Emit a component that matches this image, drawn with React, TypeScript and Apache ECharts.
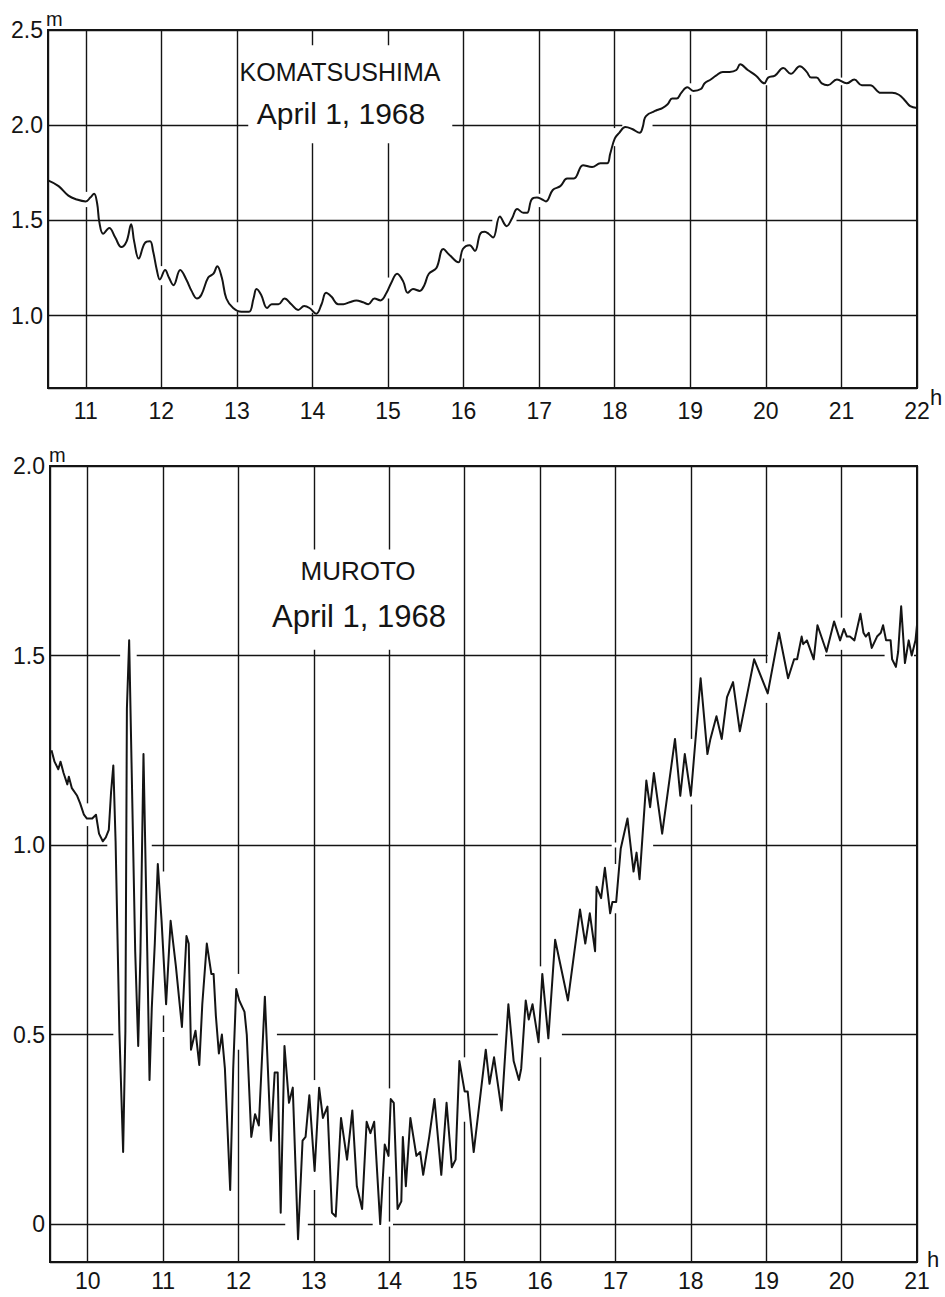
import React, { useEffect, useRef } from 'react';
import * as echarts from 'echarts';

// ---- data (hour of day, sea level in metres) ----
const komatsushimaTide: [number, number][] = [
  [10.5, 1.71], [10.64, 1.68], [10.77, 1.63], [10.88, 1.61], [11.0, 1.6], [11.06, 1.62], [11.11, 1.64],
  [11.15, 1.59], [11.18, 1.49], [11.23, 1.43], [11.31, 1.46], [11.39, 1.41], [11.47, 1.36], [11.54, 1.39],
  [11.6, 1.48], [11.64, 1.39], [11.7, 1.3], [11.78, 1.38], [11.85, 1.39], [11.89, 1.34], [11.94, 1.24],
  [11.98, 1.19], [12.05, 1.24], [12.1, 1.2], [12.16, 1.16], [12.25, 1.24], [12.33, 1.19], [12.4, 1.13],
  [12.47, 1.09], [12.53, 1.11], [12.62, 1.2], [12.69, 1.22], [12.74, 1.26], [12.8, 1.2], [12.86, 1.09],
  [12.95, 1.04], [13.06, 1.02], [13.16, 1.02], [13.22, 1.09], [13.26, 1.14], [13.32, 1.11], [13.4, 1.04],
  [13.46, 1.06], [13.55, 1.06], [13.63, 1.09], [13.72, 1.06], [13.81, 1.03], [13.89, 1.05], [13.96, 1.04],
  [14.05, 1.01], [14.12, 1.06], [14.18, 1.12], [14.25, 1.1], [14.34, 1.06], [14.41, 1.06], [14.49, 1.07],
  [14.58, 1.08], [14.67, 1.07], [14.74, 1.06], [14.82, 1.09], [14.9, 1.08], [14.98, 1.12], [15.04, 1.17],
  [15.12, 1.22], [15.2, 1.18], [15.26, 1.12], [15.33, 1.14], [15.42, 1.13], [15.48, 1.16], [15.54, 1.22],
  [15.64, 1.25], [15.73, 1.35], [15.81, 1.32], [15.93, 1.28], [15.99, 1.35], [16.08, 1.37], [16.15, 1.34],
  [16.22, 1.43], [16.28, 1.44], [16.33, 1.43], [16.39, 1.41], [16.48, 1.52], [16.57, 1.47], [16.64, 1.51],
  [16.71, 1.56], [16.79, 1.54], [16.84, 1.54], [16.9, 1.61], [16.97, 1.62], [17.04, 1.61], [17.09, 1.6],
  [17.18, 1.66], [17.28, 1.68], [17.37, 1.72], [17.46, 1.72], [17.58, 1.79], [17.7, 1.78], [17.81, 1.8],
  [17.9, 1.8], [17.94, 1.85], [18.0, 1.93], [18.06, 1.96], [18.14, 1.99], [18.23, 1.98], [18.33, 1.96],
  [18.37, 1.99], [18.4, 2.04], [18.45, 2.06], [18.51, 2.07], [18.56, 2.08], [18.63, 2.09], [18.7, 2.11],
  [18.76, 2.14], [18.82, 2.14], [18.88, 2.17], [18.96, 2.2], [19.04, 2.18], [19.14, 2.19], [19.19, 2.22],
  [19.27, 2.24], [19.34, 2.26], [19.43, 2.28], [19.52, 2.28], [19.61, 2.29], [19.66, 2.32], [19.76, 2.29],
  [19.87, 2.26], [19.98, 2.22], [20.03, 2.25], [20.12, 2.26], [20.23, 2.3], [20.33, 2.27], [20.45, 2.31],
  [20.54, 2.28], [20.6, 2.25], [20.67, 2.25], [20.74, 2.22], [20.82, 2.21], [20.94, 2.24], [21.07, 2.22],
  [21.17, 2.24], [21.27, 2.21], [21.38, 2.21], [21.52, 2.17], [21.58, 2.17], [21.67, 2.17], [21.76, 2.16],
  [21.84, 2.13], [21.91, 2.1], [22.0, 2.09],
];

const murotoTide: [number, number][] = [
  [9.52, 1.25], [9.56, 1.22], [9.61, 1.2], [9.64, 1.22], [9.68, 1.19], [9.73, 1.16], [9.75, 1.18],
  [9.79, 1.15], [9.86, 1.13], [9.9, 1.11], [9.95, 1.08], [9.99, 1.07], [10.06, 1.07], [10.11, 1.08],
  [10.15, 1.03], [10.2, 1.01], [10.24, 1.02], [10.28, 1.04], [10.31, 1.14], [10.34, 1.21], [10.37, 1.01],
  [10.42, 0.51], [10.47, 0.19], [10.5, 0.51], [10.52, 1.36], [10.55, 1.54], [10.59, 1.13], [10.63, 0.72],
  [10.67, 0.47], [10.7, 0.72], [10.74, 1.24], [10.79, 0.72], [10.82, 0.38], [10.85, 0.57], [10.89, 0.74],
  [10.93, 0.95], [10.98, 0.8], [11.04, 0.58], [11.1, 0.8], [11.17, 0.68], [11.25, 0.52], [11.31, 0.76],
  [11.34, 0.74], [11.37, 0.46], [11.43, 0.51], [11.48, 0.42], [11.52, 0.58], [11.58, 0.74], [11.64, 0.66],
  [11.67, 0.66], [11.7, 0.55], [11.74, 0.45], [11.78, 0.5], [11.82, 0.41], [11.89, 0.09], [11.93, 0.41],
  [11.97, 0.62], [12.01, 0.59], [12.08, 0.56], [12.11, 0.5], [12.17, 0.23], [12.22, 0.29], [12.27, 0.26],
  [12.35, 0.6], [12.43, 0.22], [12.48, 0.4], [12.52, 0.4], [12.56, 0.03], [12.61, 0.47], [12.67, 0.32],
  [12.72, 0.36], [12.79, -0.04], [12.85, 0.22], [12.89, 0.23], [12.94, 0.34], [13.01, 0.14], [13.07, 0.36],
  [13.12, 0.28], [13.18, 0.31], [13.24, 0.03], [13.29, 0.02], [13.36, 0.28], [13.44, 0.17], [13.51, 0.3],
  [13.57, 0.1], [13.64, 0.04], [13.7, 0.27], [13.75, 0.24], [13.8, 0.27], [13.88, 0.0], [13.94, 0.21],
  [13.99, 0.18], [14.02, 0.33], [14.06, 0.32], [14.11, 0.04], [14.16, 0.06], [14.18, 0.23], [14.22, 0.1],
  [14.28, 0.28], [14.36, 0.18], [14.41, 0.19], [14.45, 0.13], [14.53, 0.23], [14.6, 0.33], [14.69, 0.13],
  [14.76, 0.32], [14.83, 0.15], [14.88, 0.17], [14.93, 0.43], [15.0, 0.35], [15.04, 0.35], [15.12, 0.19],
  [15.28, 0.46], [15.33, 0.37], [15.39, 0.44], [15.49, 0.3], [15.58, 0.58], [15.65, 0.43], [15.72, 0.38],
  [15.75, 0.41], [15.81, 0.59], [15.85, 0.54], [15.9, 0.58], [15.98, 0.48], [16.03, 0.66], [16.11, 0.49],
  [16.2, 0.75], [16.37, 0.59], [16.53, 0.83], [16.6, 0.74], [16.66, 0.82], [16.73, 0.72], [16.75, 0.89],
  [16.81, 0.86], [16.86, 0.94], [16.93, 0.82], [16.96, 0.85], [17.01, 0.85], [17.07, 0.99], [17.16, 1.07],
  [17.24, 0.93], [17.28, 0.98], [17.32, 0.91], [17.41, 1.17], [17.46, 1.1], [17.51, 1.19], [17.62, 1.03],
  [17.79, 1.28], [17.86, 1.13], [17.92, 1.24], [18.0, 1.13], [18.13, 1.44], [18.22, 1.24], [18.26, 1.28],
  [18.34, 1.34], [18.41, 1.28], [18.48, 1.39], [18.56, 1.43], [18.65, 1.3], [18.84, 1.49], [19.02, 1.4],
  [19.17, 1.56], [19.29, 1.44], [19.37, 1.49], [19.41, 1.49], [19.47, 1.55], [19.49, 1.53], [19.54, 1.54],
  [19.63, 1.49], [19.68, 1.58], [19.8, 1.51], [19.9, 1.59], [19.98, 1.54], [20.03, 1.57], [20.07, 1.55],
  [20.11, 1.55], [20.17, 1.54], [20.25, 1.61], [20.29, 1.56], [20.32, 1.55], [20.36, 1.56], [20.4, 1.52],
  [20.47, 1.55], [20.52, 1.56], [20.55, 1.58], [20.59, 1.54], [20.62, 1.54], [20.65, 1.54], [20.67, 1.49],
  [20.72, 1.47], [20.75, 1.51], [20.79, 1.63], [20.84, 1.48], [20.89, 1.54], [20.93, 1.5], [20.98, 1.54],
  [21.0, 1.58],
];

// axis ranges
const topHours: [number, number] = [10.5, 22];
const topLevels: [number, number] = [0.62, 2.5];
const bottomHours: [number, number] = [9.5, 21];
const bottomLevels: [number, number] = [-0.1, 2.0];

// panel labels
const topStation = 'KOMATSUSHIMA';
const bottomStation = 'MUROTO';
const dateLabel = 'April 1, 1968';

// drafting breaks in the grid lines (data units): [line value, from, to]
const topHBreaks: [number, number, number][] = [[2.0, 18.1, 18.5], [1.5, 16.38, 16.7]];
const topVBreaks: [number, number, number][] = [
  [11, 1.57, 1.65], [12, 1.16, 1.26], [13, 1.02, 1.07], [14, 1.015, 1.055], [15, 1.09, 1.2],
  [16, 1.3, 1.39], [17, 1.57, 1.64], [18, 1.89, 1.985], [19, 2.16, 2.22], [20, 2.21, 2.29], [21, 2.21, 2.25],
];
const bottomHBreaks: [number, number, number][] = [
  [1.5, 10.43, 10.65], [1.5, 19.02, 19.78], [1.5, 20.57, 20.96], [1.0, 10.26, 10.85], [1.0, 16.95, 17.5],
  [0.5, 10.34, 12.51], [0.5, 15.44, 16.29], [0, 12.62, 12.92], [0, 13.78, 14.05],
];
const bottomVBreaks: [number, number, number][] = [
  [10, 1.05, 1.11], [11, 0.55, 0.93], [12, 0.46, 0.66], [13, 0.09, 0.38], [14, 0.125, 0.358],
  [15, 0.27, 0.44], [16, 0.44, 0.68], [17, 0.82, 0.95], [18, 1.107, 1.28], [19, 1.375, 1.48], [20, 1.515, 1.6],
];
// title boxes: [x0, x1, y0, y1]
const topTitleBox: [number, number, number, number] = [13.15, 15.85, 1.905, 2.42];
const bottomTitleBox: [number, number, number, number] = [12.35, 14.87, 1.515, 1.78];

const INK = '#141414';
const FONT = 'Liberation Sans';

const isInt = (v: number) => Math.abs(v - Math.round(v)) < 1e-6;
const isHalf = (v: number) => Math.abs(v * 2 - Math.round(v * 2)) < 1e-6;

function makeX(gridIndex: number, range: [number, number], margin: number) {
  return {
    type: 'value',
    gridIndex,
    min: range[0],
    max: range[1],
    splitNumber: 12,
    axisLine: { show: true, onZero: false, lineStyle: { color: INK, width: 2 } },
    axisTick: { show: false },
    splitLine: { show: true, lineStyle: { color: INK, width: 1.4 } },
    axisLabel: {
      margin,
      color: INK,
      fontFamily: FONT,
      fontSize: 23,
      formatter: (v: number) => (isInt(v) ? String(Math.round(v)) : ''),
    },
  };
}

function makeY(gridIndex: number, range: [number, number]) {
  return {
    type: 'value',
    gridIndex,
    min: range[0],
    max: range[1],
    splitNumber: 4,
    axisLine: { show: true, onZero: false, lineStyle: { color: INK, width: 2 } },
    axisTick: { show: false },
    splitLine: { show: true, lineStyle: { color: INK, width: 1.4 } },
    axisLabel: {
      margin: 5,
      color: INK,
      fontFamily: FONT,
      fontSize: 23,
      formatter: (v: number) => (Math.abs(v) < 1e-9 ? '0' : isHalf(v) ? v.toFixed(1) : ''),
    },
  };
}

export default function App() {
  const ref = useRef<HTMLDivElement>(null);

  useEffect(() => {
    if (!ref.current) return;
    const chart = echarts.init(ref.current, undefined, { renderer: 'svg' });
    chart.setOption({
      animation: false,
      backgroundColor: '#ffffff',
      grid: [
        { left: 48, top: 30, width: 869, height: 358, show: true, borderColor: INK, borderWidth: 2, backgroundColor: 'transparent' },
        { left: 50, top: 466, width: 867, height: 796, show: true, borderColor: INK, borderWidth: 2, backgroundColor: 'transparent' },
      ],
      xAxis: [makeX(0, topHours, 11), makeX(1, bottomHours, 7)],
      yAxis: [makeY(0, topLevels), makeY(1, bottomLevels)],
      series: [
        {
          name: topStation,
          type: 'line',
          xAxisIndex: 0,
          yAxisIndex: 0,
          data: komatsushimaTide,
          symbol: 'none',
          smooth: 0.4,
          lineStyle: { color: INK, width: 2 },
          z: 5,
        },
        {
          name: bottomStation,
          type: 'line',
          xAxisIndex: 1,
          yAxisIndex: 1,
          data: murotoTide,
          symbol: 'none',
          smooth: false,
          lineStyle: { color: INK, width: 2, join: 'round' },
          z: 5,
        },
      ],
    });

    const px = (g: number, x: number, y: number) => chart.convertToPixel({ gridIndex: g } as any, [x, y]) as number[];
    const white = { fill: '#ffffff', stroke: null };
    const elements: any[] = [];
    const addH = (g: number, list: [number, number, number][]) => {
      list.forEach(([y, x0, x1]) => {
        const a = px(g, x0, y);
        const b = px(g, x1, y);
        elements.push({ type: 'rect', z: 3, silent: true, shape: { x: a[0], y: a[1] - 2.5, width: b[0] - a[0], height: 5 }, style: white });
      });
    };
    const addV = (g: number, list: [number, number, number][]) => {
      list.forEach(([x, y0, y1]) => {
        const a = px(g, x, y1);
        const b = px(g, x, y0);
        elements.push({ type: 'rect', z: 3, silent: true, shape: { x: a[0] - 2.5, y: a[1], width: 5, height: b[1] - a[1] }, style: white });
      });
    };
    const addBox = (g: number, box: [number, number, number, number]) => {
      const a = px(g, box[0], box[3]);
      const b = px(g, box[1], box[2]);
      elements.push({ type: 'rect', z: 3, silent: true, shape: { x: a[0], y: a[1], width: b[0] - a[0], height: b[1] - a[1] }, style: white });
    };
    addH(0, topHBreaks);
    addV(0, topVBreaks);
    addH(1, bottomHBreaks);
    addV(1, bottomVBreaks);
    addBox(0, topTitleBox);
    addBox(1, bottomTitleBox);

    const txt = (text: string, x: number, y: number, size: number, align = 'center') => ({
      type: 'text',
      z: 10,
      silent: true,
      x,
      y,
      style: { text, fill: INK, font: `${size}px "${FONT}"`, align, verticalAlign: 'middle' },
    });
    elements.push(txt(topStation, 340, 72, 25));
    elements.push(txt(dateLabel, 341, 113, 30));
    elements.push(txt(bottomStation, 358, 571, 26));
    elements.push(txt(dateLabel, 359, 616, 31));
    elements.push(txt('m', 46, 19, 20, 'left'));
    elements.push(txt('m', 49, 455, 20, 'left'));
    elements.push(txt('h', 930, 397, 22, 'left'));
    elements.push(txt('h', 927, 1259, 22, 'left'));

    chart.setOption({ graphic: { elements } });

    return () => chart.dispose();
  }, []);

  return (
    <div
      ref={ref}
      style={{ position: 'absolute', left: 0, top: 0, width: 945, height: 1297, background: '#ffffff' }}
    />
  );
}
